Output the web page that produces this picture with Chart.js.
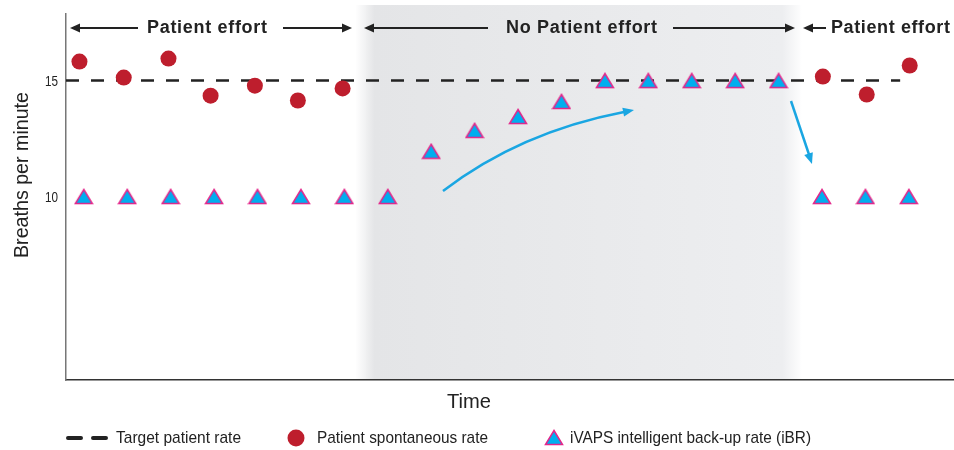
<!DOCTYPE html>
<html>
<head>
<meta charset="utf-8">
<script src="https://cdn.jsdelivr.net/npm/chart.js@4/dist/chart.umd.min.js"></script>
<style>
  html, body { margin: 0; padding: 0; background: #fff; }
  #chart { display: block; }
</style>
</head>
<body>
<canvas id="chart" width="954" height="450"></canvas>
<script>
// ---- data ----
const backupX    = [0,1,2,3,4,5,6,7,8,9,10,11,12,13,14,15,16,17,18,19];
const backupRate = [10,10,10,10,10,10,10,10,11.95,12.85,13.45,14.1,15,15,15,15,15,10,10,10];

const spontX    = [-0.1,0.92,1.95,2.92,3.94,4.93,5.96,17.02,18.03,19.02];
const spontRate = [15.82,15.13,15.95,14.35,14.78,14.14,14.66,15.17,14.4,15.65];

const targetX    = [-0.41, 18.8];
const targetRate = [15, 15];

const yTicks = [10, 15];

// no patient effort phase (time units), with soft edges
const noEffortFadeIn  = [6.25, 6.7];
const noEffortFadeOut = [16.1, 16.55];

const NARROW = '"Liberation Sans Narrow", "Arial Narrow", "Liberation Sans", Arial, sans-serif';
const BOLD   = '"Liberation Sans", Arial, sans-serif';
const RED  = "#be1e2d";
const BLUE = "#00aeef";
const PINK = "#e3268a";
const ARROW_BLUE = "#1aa6e2";

Chart.defaults.font.family = NARROW;
Chart.defaults.color = "#222";

function $(id){ return document.getElementById(id); }

// triangle marker, centred on its box like the original
function makeTriangle(){
  const c = document.createElement("canvas");
  c.width = 20; c.height = 17;
  const g = c.getContext("2d");
  g.beginPath();
  g.moveTo(10, 1.5);
  g.lineTo(18.5, 15.5);
  g.lineTo(1.5, 15.5);
  g.closePath();
  g.fillStyle = BLUE;
  g.fill();
  g.lineWidth = 1.5;
  g.strokeStyle = PINK;
  g.stroke();
  return c;
}
const triImg = makeTriangle();

// condensed text: squeeze horizontally to the width it has in the original
function fitText(ctx, text, x, y, w, align){
  const m = ctx.measureText(text).width;
  const sx = w / m;
  ctx.save();
  ctx.translate(x, y);
  ctx.scale(sx, 1);
  ctx.textAlign = align || "left";
  ctx.fillText(text, 0, 0);
  ctx.restore();
}

// bold header text, spread with letter spacing
function spreadText(ctx, text, x, y, w){
  ctx.save();
  ctx.letterSpacing = "0px";
  const m = ctx.measureText(text).width;
  ctx.letterSpacing = ((w - m) / (text.length - 1)).toFixed(2) + "px";
  ctx.textAlign = "left";
  ctx.fillText(text, x, y);
  ctx.restore();
}

function arrowHead(ctx, x, y, ang, len, wid, color){
  ctx.save();
  ctx.translate(x, y);
  ctx.rotate(ang);
  ctx.beginPath();
  ctx.moveTo(0, 0);
  ctx.lineTo(-len, -wid/2);
  ctx.lineTo(-len,  wid/2);
  ctx.closePath();
  ctx.fillStyle = color;
  ctx.fill();
  ctx.restore();
}

// horizontal arrow, head at x2
function hArrow(ctx, x1, x2, y){
  const dir = x2 > x1 ? 1 : -1;
  ctx.beginPath();
  ctx.moveTo(x1, y);
  ctx.lineTo(x2 - dir*6, y);
  ctx.lineWidth = 2;
  ctx.strokeStyle = "#222";
  ctx.stroke();
  arrowHead(ctx, x2, y, dir > 0 ? 0 : Math.PI, 10, 9, "#222");
}

const decor = {
  id: "decor",
  beforeDraw(chart){
    const ctx = chart.ctx, a = chart.chartArea, xs = chart.scales.x;
    const l0 = xs.getPixelForValue(noEffortFadeIn[0]);
    const l1 = xs.getPixelForValue(noEffortFadeIn[1]);
    const r0 = xs.getPixelForValue(noEffortFadeOut[0]);
    const r1 = xs.getPixelForValue(noEffortFadeOut[1]);
    const g = ctx.createLinearGradient(l0, 0, r1, 0);
    const span = r1 - l0;
    g.addColorStop(0, "rgba(228,229,231,0)");
    g.addColorStop((l1-l0)/span, "rgb(228,229,231)");
    g.addColorStop((r0-l0)/span, "rgb(237,238,240)");
    g.addColorStop(1, "rgba(237,238,240,0)");
    ctx.save();
    ctx.fillStyle = g;
    ctx.fillRect(l0, 5, r1 - l0, a.bottom - 5);
    ctx.restore();
  },
  afterDraw(chart){
    const ctx = chart.ctx, a = chart.chartArea, ys = chart.scales.y;
    ctx.save();
    ctx.textBaseline = "middle";

    // phase headers
    ctx.fillStyle = "#222";
    ctx.font = "bold 18px " + BOLD;
    spreadText(ctx, "Patient effort", 147, 28, 120);
    spreadText(ctx, "No Patient effort", 506, 28, 151);
    spreadText(ctx, "Patient effort", 831, 28, 119);
    hArrow(ctx, 138, 70, 28);
    hArrow(ctx, 283, 352, 28);
    hArrow(ctx, 488, 364, 28);
    hArrow(ctx, 673, 795, 28);
    hArrow(ctx, 826, 803, 28);

    // cyan trend arrows
    ctx.strokeStyle = ARROW_BLUE;
    ctx.lineWidth = 2.5;
    ctx.beginPath();
    ctx.moveTo(443, 191);
    ctx.quadraticCurveTo(520, 132, 624, 112);
    ctx.stroke();
    arrowHead(ctx, 634, 110, Math.atan2(112-132, 624-520), 11, 9, ARROW_BLUE);

    ctx.beginPath();
    ctx.moveTo(791, 101);
    ctx.lineTo(809.5, 156);
    ctx.stroke();
    arrowHead(ctx, 812, 164, Math.atan2(63, 21), 11, 9, ARROW_BLUE);

    // y tick labels, placed by the y scale
    ctx.fillStyle = "#222";
    ctx.font = "15px " + NARROW;
    yTicks.forEach(v => fitText(ctx, String(v), 58, ys.getPixelForValue(v) + 1, 13, "right"));

    // axis titles
    ctx.font = "21px " + NARROW;
    fitText(ctx, "Time", 469, 402, 44, "center");
    ctx.save();
    ctx.translate(22, 175);
    ctx.rotate(-Math.PI/2);
    fitText(ctx, "Breaths per minute", 0, 0, 166, "center");
    ctx.restore();

    // legend
    const ly = 438;
    ctx.strokeStyle = "#222";
    ctx.lineWidth = 4;
    ctx.lineCap = "round";
    ctx.beginPath();
    ctx.moveTo(68, ly); ctx.lineTo(81, ly);
    ctx.moveTo(93, ly); ctx.lineTo(106, ly);
    ctx.stroke();
    ctx.beginPath();
    ctx.arc(296, ly, 8.5, 0, Math.PI*2);
    ctx.fillStyle = RED;
    ctx.fill();
    ctx.drawImage(triImg, 544, ly - 9);
    ctx.fillStyle = "#222";
    ctx.font = "17px " + NARROW;
    fitText(ctx, "Target patient rate", 116, ly, 125);
    fitText(ctx, "Patient spontaneous rate", 317, ly, 171);
    fitText(ctx, "iVAPS intelligent back-up rate (iBR)", 570, ly, 241);

    ctx.restore();
  }
};

new Chart($("chart").getContext("2d"), {
  type: "scatter",
  data: {
    datasets: [
      {
        label: "Target patient rate",
        type: "line",
        data: targetX.map((x, i) => ({ x, y: targetRate[i] })),
        borderColor: "#222",
        borderWidth: 2.5,
        borderDash: [13, 12],
        pointRadius: 0,
        order: 3
      },
      {
        label: "Patient spontaneous rate",
        data: spontX.map((x, i) => ({ x, y: spontRate[i] })),
        pointStyle: "circle",
        pointRadius: 8,
        backgroundColor: RED,
        borderWidth: 0,
        order: 2
      },
      {
        label: "iVAPS intelligent back-up rate (iBR)",
        data: backupX.map((x, i) => ({ x, y: backupRate[i] })),
        pointStyle: triImg,
        order: 1
      }
    ]
  },
  options: {
    responsive: false,
    animation: false,
    layout: { autoPadding: false, padding: { top: 14, left: 0, right: 0, bottom: 0 } },
    plugins: { legend: { display: false }, tooltip: { enabled: false } },
    scales: {
      x: {
        type: "linear", min: -0.41, max: 20.04,
        grid: { display: false, drawTicks: false },
        ticks: { display: false },
        border: { display: true, color: "#333", width: 1.5 },
        afterFit(s){ s.height = 70; }
      },
      y: {
        min: 2.09, max: 17.87,
        grid: { display: false, drawTicks: false },
        border: { display: true, color: "#777", width: 1.5 },
        ticks: { display: false },
        afterBuildTicks(s){ s.ticks = yTicks.map(v => ({ value: v })); },
        afterFit(s){ s.width = 66; }
      }
    }
  },
  plugins: [decor]
});
</script>
</body>
</html>
